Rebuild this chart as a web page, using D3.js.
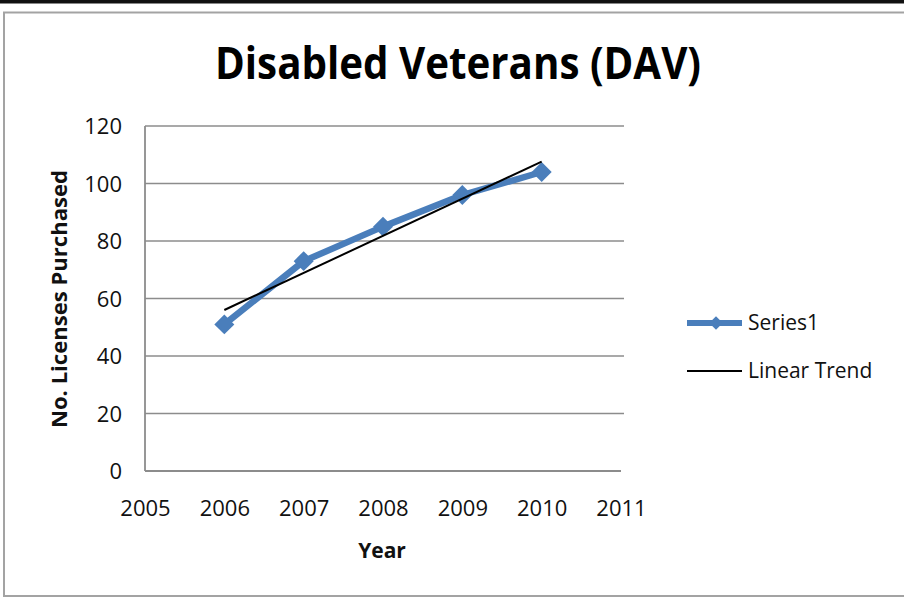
<!DOCTYPE html>
<html>
<head>
<meta charset="utf-8">
<script src="https://cdn.jsdelivr.net/npm/d3@7"></script>
<style>
  html, body { margin: 0; padding: 0; background: #fff; }
  svg { display: block; font-family: "Open Sans", "DejaVu Sans", sans-serif; }
</style>
</head>
<body>
<svg id="chart" width="904" height="598"></svg>
<script>
// Licenses purchased per year (DAV)
const years = [2006, 2007, 2008, 2009, 2010];
const licenses = [51, 73, 85, 96, 104];
const xTicks = [2005, 2006, 2007, 2008, 2009, 2010, 2011];
const yTicks = [0, 20, 40, 60, 80, 100, 120];
const seriesName = "Series1";
const trendName = "Linear Trend";

const svg = d3.select("#chart");
const W = 904, H = 598;
const blue = "#4A7EBB";
const gridColor = "#8c8c8c";

// page frame
svg.append("rect").attr("x", 0).attr("y", 0).attr("width", W).attr("height", 3.5).attr("fill", "#111");
svg.append("path")
  .attr("d", `M${W + 2},12.5 H4 V596 H${W + 2}`)
  .attr("fill", "none").attr("stroke", "#a3a3a3").attr("stroke-width", 2);

const x = d3.scaleLinear().domain([2005, 2011]).range([145, 621]);
const y = d3.scaleLinear().domain([0, 120]).range([471, 126]);

// horizontal gridlines
svg.append("g").selectAll("line").data(yTicks.filter(d => d > 0)).join("line")
  .attr("x1", x(2005)).attr("x2", 624)
  .attr("y1", d => y(d)).attr("y2", d => y(d))
  .attr("stroke", gridColor).attr("stroke-width", 1.5);

// axes
const yAxis = svg.append("g").attr("transform", `translate(${x(2005)},0)`)
  .call(d3.axisLeft(y).tickValues(yTicks).tickSize(0).tickPadding(23).tickFormat(d3.format("d")));
const xAxis = svg.append("g").attr("transform", `translate(0,${y(0)})`)
  .call(d3.axisBottom(x).tickValues(xTicks).tickSize(0).tickPadding(29).tickFormat(d3.format("d")));
[yAxis, xAxis].forEach(g => {
  g.select(".domain").attr("stroke", gridColor).attr("stroke-width", 1.8);
  g.selectAll("text").attr("font-size", 22).attr("fill", "#111").attr("font-family", "'Open Sans', sans-serif");
});
xAxis.select(".domain").attr("d", `M${x(2005)},0H${x(2011)}`);
yAxis.select(".domain").attr("d", `M0,${y(0)}V${y(120)}`);
yAxis.selectAll("text").attr("dy", "0.36em");

// linear trend (least squares fit of the series)
const mx = d3.mean(years), my = d3.mean(licenses);
const slope = d3.sum(years, (d, i) => (d - mx) * (licenses[i] - my)) / d3.sum(years, d => (d - mx) ** 2);
const trendAt = yr => my + slope * (yr - mx);
const trendYears = [years[0], years[years.length - 1]];

// series line
const pts = years.map((d, i) => [d, licenses[i]]);
svg.append("path").datum(pts)
  .attr("d", d3.line().x(d => x(d[0])).y(d => y(d[1])))
  .attr("fill", "none").attr("stroke", blue).attr("stroke-width", 6.5).attr("stroke-linejoin", "round");

// square markers turned 45 degrees
const marker = d3.symbol().type(d3.symbolSquare).size(200);
svg.append("g").selectAll("path").data(pts).join("path")
  .attr("d", marker)
  .attr("transform", d => `translate(${x(d[0])},${y(d[1])}) rotate(45)`)
  .attr("fill", blue);

svg.append("path").datum(trendYears)
  .attr("d", d3.line().x(d => x(d)).y(d => y(trendAt(d))))
  .attr("fill", "none").attr("stroke", "#000").attr("stroke-width", 2);

// title
svg.append("text").attr("x", 458).attr("y", 79).attr("text-anchor", "middle")
  .attr("font-size", 45).attr("font-weight", "bold").attr("fill", "#000")
  .attr("textLength", 486).attr("lengthAdjust", "spacingAndGlyphs")
  .text("Disabled Veterans (DAV)");

// axis titles
svg.append("text").attr("x", 382).attr("y", 558).attr("text-anchor", "middle")
  .attr("font-size", 21).attr("font-weight", "bold").attr("fill", "#111").text("Year");
svg.append("text").attr("transform", "translate(67,299) rotate(-90)").attr("text-anchor", "middle")
  .attr("font-size", 21).attr("font-weight", "bold").attr("fill", "#111")
  .attr("textLength", 258).attr("lengthAdjust", "spacingAndGlyphs")
  .text("No. Licenses Purchased");

// legend
const lg = svg.append("g");
lg.append("line").attr("x1", 687).attr("x2", 742).attr("y1", 323).attr("y2", 323)
  .attr("stroke", blue).attr("stroke-width", 6);
lg.append("path").attr("d", d3.symbol().type(d3.symbolSquare).size(90))
  .attr("transform", "translate(716,323) rotate(45)").attr("fill", blue);
lg.append("text").attr("x", 748).attr("y", 323).attr("dy", "0.35em").attr("font-size", 21).attr("fill", "#111").text(seriesName);
lg.append("line").attr("x1", 687).attr("x2", 742).attr("y1", 371).attr("y2", 371)
  .attr("stroke", "#000").attr("stroke-width", 2);
lg.append("text").attr("x", 748).attr("y", 371).attr("dy", "0.35em").attr("font-size", 21).attr("fill", "#111").text(trendName);
</script>
</body>
</html>
